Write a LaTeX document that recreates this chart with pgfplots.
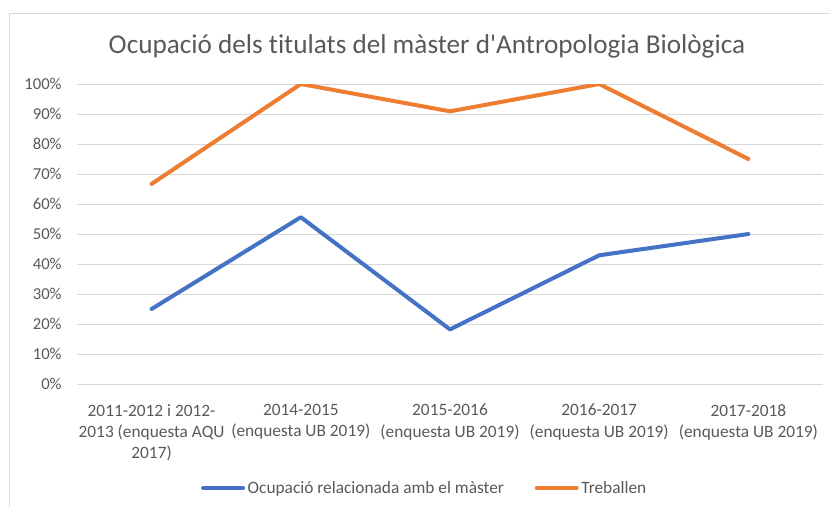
\documentclass[border=0pt]{standalone}
\usepackage{pgfplots}
\pgfplotsset{compat=1.18}
\usepackage{fontspec}
\setmainfont{Carlito}[Ligatures={TeXOff,CommonOff}]
\definecolor{txt}{HTML}{595959}
\definecolor{gridc}{HTML}{D9D9D9}
\definecolor{sblue}{HTML}{4472C4}
\definecolor{sorange}{HTML}{ED7D31}
\begin{document}
\begin{tikzpicture}
\begin{scope}[x=0.75pt,y=-0.75pt]
\path[use as bounding box] (0,0) rectangle (830,507);
\draw[gridc, line width=0.75pt] (9,507) -- (9,13) -- (830,13);
\node[text=txt, font=\fontsize{20.4}{24}\selectfont] at (427,46) {Ocupació dels titulats del màster d'Antropologia Biològica};
\end{scope}
\begin{axis}[
  at={(57.75pt,-63pt)}, anchor=north west,
  scale only axis, width=559.5pt, height=225pt,
  xmin=-0.5, xmax=4.5, ymin=0, ymax=100,
  xtick={0,1,2,3,4},
  xticklabels={{2011-2012 i 2012-\\2013 (enquesta AQU\\2017)},{2014-2015\\(enquesta UB 2019)},{2015-2016\\(enquesta UB 2019)},{2016-2017\\(enquesta UB 2019)},{2017-2018\\(enquesta UB 2019)}},
  ytick={0,10,...,100},
  yticklabels={0\%,10\%,20\%,30\%,40\%,50\%,60\%,70\%,80\%,90\%,100\%},
  xticklabel style={align=center, text=txt, font=\fontsize{13}{15.8}\selectfont, inner sep=0pt, yshift=-15pt},
  yticklabel style={text=txt, font=\fontsize{12.5}{15}\selectfont, xshift=-8pt},
  ymajorgrids, grid style={gridc, line width=0.75pt},
  axis line style={draw=none}, major tick length=0pt,
  legend style={at={(0.4665,-0.3467)}, anchor=center, draw=none, legend columns=2,
    font=\fontsize{13}{16}\selectfont, text=txt,
    /tikz/every even column/.append style={column sep=21pt}},
  legend image code/.code={\draw[#1, line width=3pt] (0pt,0pt) -- (30pt,0pt);},
]
\addplot[sblue, line width=3pt, line join=round, line cap=round] coordinates {(0,25) (1,55.6) (2,18.2) (3,42.9) (4,50)};
\addlegendentry{Ocupació relacionada amb el màster}
\addplot[sorange, line width=3pt, line join=round, line cap=round] coordinates {(0,66.7) (1,100) (2,90.9) (3,100) (4,75)};
\addlegendentry{Treballen}
\end{axis}
\end{tikzpicture}
\end{document}
